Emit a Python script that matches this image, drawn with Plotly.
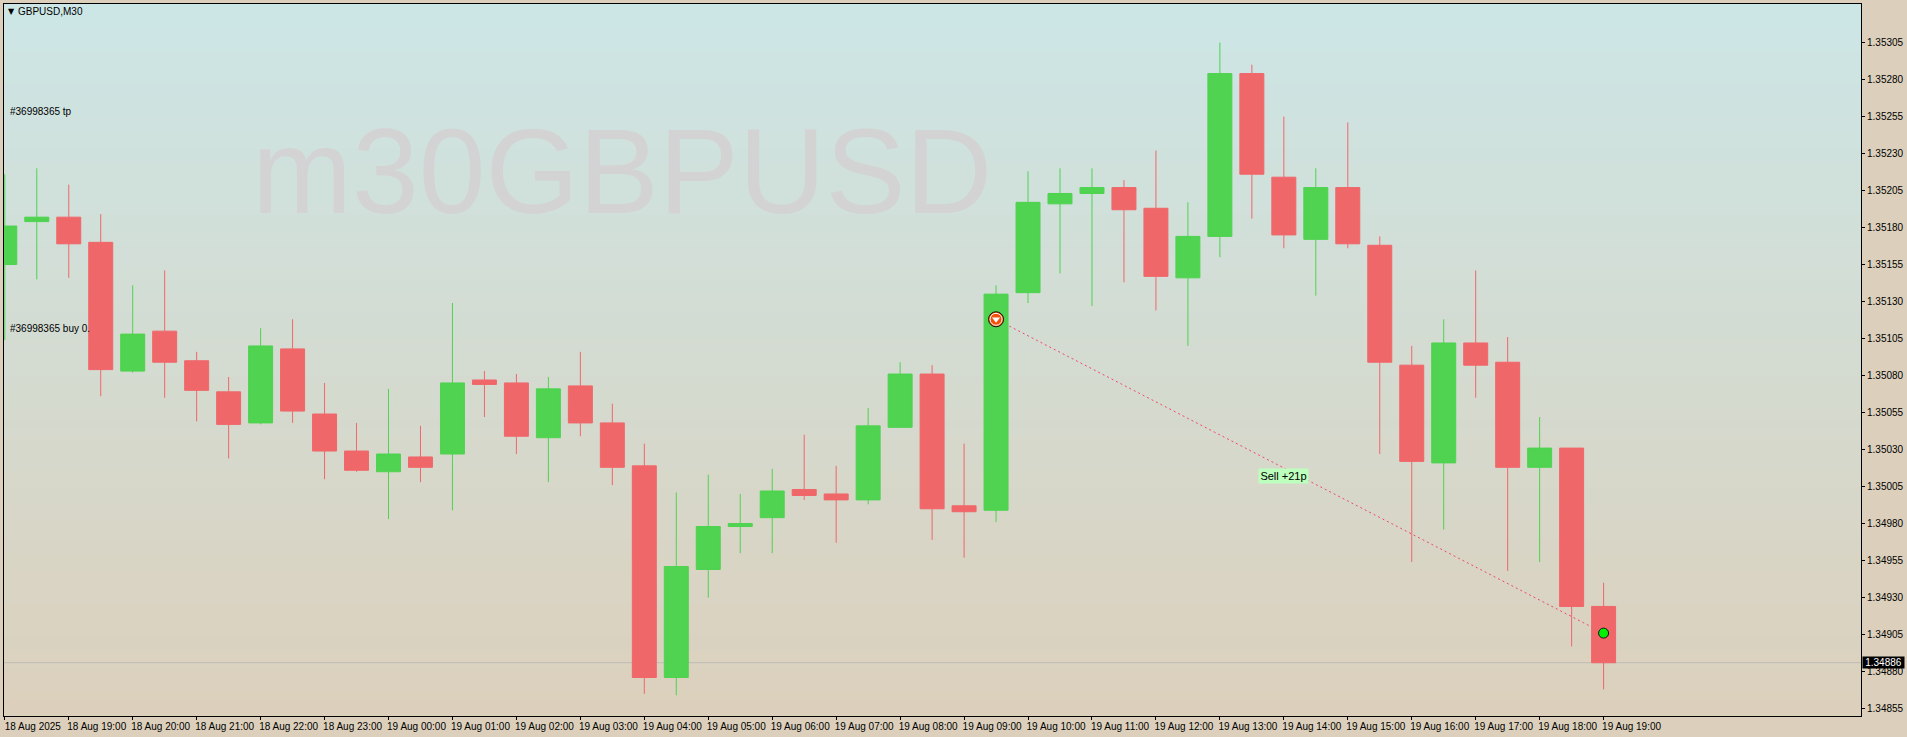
import base64
import struct
import zlib

import pandas as pd
import plotly.graph_objects as go

# ---------- data ----------
opens = [1.35155, 1.35184, 1.35187, 1.35170, 1.35083, 1.35110, 1.35090, 1.35069, 1.35048, 1.35098,
         1.35054, 1.35029, 1.35015, 1.35025, 1.35027, 1.35077, 1.35075, 1.35038, 1.35073, 1.35048,
         1.35019, 1.34876, 1.34949, 1.34978, 1.34984, 1.35003, 1.35000, 1.34996, 1.35045, 1.35081,
         1.34992, 1.34989, 1.35136, 1.35196, 1.35203, 1.35207, 1.35193, 1.35146, 1.35174, 1.35284,
         1.35214, 1.35172, 1.35207, 1.35168, 1.35087, 1.35021, 1.35102, 1.35089, 1.35018, 1.35031,
         1.34924]
highs = [1.35216, 1.35220, 1.35209, 1.35189, 1.35141, 1.35151, 1.35096, 1.35079, 1.35112, 1.35118,
         1.35075, 1.35048, 1.35071, 1.35046, 1.35129, 1.35083, 1.35081, 1.35079, 1.35096, 1.35061,
         1.35034, 1.35001, 1.35013, 1.35000, 1.35017, 1.35040, 1.35019, 1.35058, 1.35089, 1.35087,
         1.35034, 1.35141, 1.35218, 1.35220, 1.35220, 1.35212, 1.35232, 1.35197, 1.35305, 1.35290,
         1.35255, 1.35220, 1.35251, 1.35174, 1.35100, 1.35118, 1.35151, 1.35106, 1.35052, 1.35031,
         1.34940]
lows = [1.35104, 1.35145, 1.35146, 1.35066, 1.35082, 1.35065, 1.35049, 1.35024, 1.35047, 1.35048,
        1.35010, 1.35015, 1.34983, 1.35008, 1.34989, 1.35052, 1.35027, 1.35008, 1.35039, 1.35006,
        1.34865, 1.34864, 1.34930, 1.34960, 1.34960, 1.34996, 1.34967, 1.34993, 1.35045, 1.34969,
        1.34957, 1.34981, 1.35129, 1.35149, 1.35127, 1.35143, 1.35124, 1.35100, 1.35160, 1.35186,
        1.35166, 1.35134, 1.35166, 1.35027, 1.34954, 1.34976, 1.35065, 1.34948, 1.34954, 1.34897,
        1.34868]
closes = [1.35181, 1.35187, 1.35169, 1.35084, 1.35108, 1.35089, 1.35070, 1.35047, 1.35100, 1.35056,
          1.35029, 1.35016, 1.35027, 1.35018, 1.35075, 1.35074, 1.35039, 1.35071, 1.35048, 1.35018,
          1.34876, 1.34951, 1.34978, 1.34980, 1.35002, 1.34999, 1.34996, 1.35046, 1.35081, 1.34990,
          1.34988, 1.35135, 1.35197, 1.35203, 1.35207, 1.35192, 1.35147, 1.35174, 1.35284, 1.35216,
          1.35175, 1.35207, 1.35169, 1.35089, 1.35022, 1.35102, 1.35087, 1.35018, 1.35031, 1.34924,
          1.34886]
x_tick_labels = ["18 Aug 2025", "18 Aug 19:00", "18 Aug 20:00", "18 Aug 21:00", "18 Aug 22:00",
                 "18 Aug 23:00", "19 Aug 00:00", "19 Aug 01:00", "19 Aug 02:00", "19 Aug 03:00",
                 "19 Aug 04:00", "19 Aug 05:00", "19 Aug 06:00", "19 Aug 07:00", "19 Aug 08:00",
                 "19 Aug 09:00", "19 Aug 10:00", "19 Aug 11:00", "19 Aug 12:00", "19 Aug 13:00",
                 "19 Aug 14:00", "19 Aug 15:00", "19 Aug 16:00", "19 Aug 17:00", "19 Aug 18:00",
                 "19 Aug 19:00"]
x_tick_times = ["2025-08-18 18:00", "2025-08-18 19:00", "2025-08-18 20:00", "2025-08-18 21:00",
                "2025-08-18 22:00", "2025-08-18 23:00", "2025-08-19 00:00", "2025-08-19 01:00",
                "2025-08-19 02:00", "2025-08-19 03:00", "2025-08-19 04:00", "2025-08-19 05:00",
                "2025-08-19 06:00", "2025-08-19 07:00", "2025-08-19 08:00", "2025-08-19 09:00",
                "2025-08-19 10:00", "2025-08-19 11:00", "2025-08-19 12:00", "2025-08-19 13:00",
                "2025-08-19 14:00", "2025-08-19 15:00", "2025-08-19 16:00", "2025-08-19 17:00",
                "2025-08-19 18:00", "2025-08-19 19:00"]
y_tick_values = [1.34855, 1.34880, 1.34905, 1.34930, 1.34955, 1.34980, 1.35005, 1.35030, 1.35055,
                 1.35080, 1.35105, 1.35130, 1.35155, 1.35180, 1.35205, 1.35230, 1.35255, 1.35280,
                 1.35305]
y_tick_labels = ["1.34855", "1.34880", "1.34905", "1.34930", "1.34955", "1.34980", "1.35005",
                 "1.35030", "1.35055", "1.35080", "1.35105", "1.35130", "1.35155", "1.35180",
                 "1.35205", "1.35230", "1.35255", "1.35280", "1.35305"]
bid_price = 1.34886
bid_label = "1.34886"
trade_times = ["2025-08-19 09:30", "2025-08-19 19:00"]
trade_prices = [1.35118, 1.34906]
trade_label = "Sell +21p"
trade_label_time = "2025-08-19 14:00"
trade_label_price = 1.35012

times = pd.date_range("2025-08-18 18:00", periods=len(opens), freq="30min")

# ---------- styles ----------
GREEN = "#4FD350"
RED = "#F0676A"
PANEL = "#DCD0BC"
FONT = "Liberation Sans Narrow, Liberation Sans, Arial, sans-serif"
GRAD_TOP = (204, 230, 230)
GRAD_BOTTOM = (220, 208, 188)


def gradient_png(top, bottom, rows=713):
    raw = b""
    for r in range(rows):
        f = r / (rows - 1)
        raw += b"\x00" + bytes(round(a + (b - a) * f) for a, b in zip(top, bottom))

    def chunk(tag, body):
        return struct.pack(">I", len(body)) + tag + body + struct.pack(">I", zlib.crc32(tag + body))

    png = b"\x89PNG\r\n\x1a\n" + chunk(b"IHDR", struct.pack(">IIBBBBB", 1, rows, 8, 2, 0, 0, 0))
    png += chunk(b"IDAT", zlib.compress(raw)) + chunk(b"IEND", b"")
    return "data:image/png;base64," + base64.b64encode(png).decode()


W, H = 1907, 737
ML, MR, MT, MB = 3, 43, 3, 21
PW, PH = W - ML - MR, H - MT - MB


def px(x):
    return (x - ML) / PW


def py(y):
    return (H - MB - y) / PH


bar = pd.Timedelta(minutes=30)
x_range = [times[0] - bar * 0.025, times[0] + bar * 58.05]

fig = go.Figure()
fig.add_trace(go.Candlestick(
    x=times, open=opens, high=highs, low=lows, close=closes,
    increasing=dict(line=dict(color=GREEN, width=1), fillcolor=GREEN),
    decreasing=dict(line=dict(color=RED, width=1), fillcolor=RED),
    whiskerwidth=0, showlegend=False, hoverinfo="skip",
))
# open-trade arrow (ringed orange circle with a white down triangle)
fig.add_trace(go.Scatter(x=trade_times[:1], y=trade_prices[:1], mode="markers", showlegend=False,
                         hoverinfo="skip",
                         marker=dict(symbol="circle", size=15, color="#FF5000",
                                     line=dict(color="#111111", width=1))))
fig.add_trace(go.Scatter(x=trade_times[:1], y=trade_prices[:1], mode="markers", showlegend=False,
                         hoverinfo="skip",
                         marker=dict(symbol="circle", size=12, color="#F5500A",
                                     line=dict(color="white", width=1))))
fig.add_trace(go.Scatter(x=trade_times[:1], y=trade_prices[:1], mode="markers", showlegend=False,
                         hoverinfo="skip",
                         marker=dict(symbol="triangle-down", size=7, color="white")))
# close-trade dot
fig.add_trace(go.Scatter(x=trade_times[1:], y=trade_prices[1:], mode="markers", showlegend=False,
                         hoverinfo="skip",
                         marker=dict(symbol="circle", size=10, color="#00F000",
                                     line=dict(color="#111111", width=1))))

annotations = [
    dict(xref="paper", yref="paper", x=px(250), y=py(170), text="m30GBPUSD", showarrow=False,
         xanchor="left", yanchor="middle",
         font=dict(family="Liberation Sans, Arial, sans-serif", size=120, color="#D3D3D3")),
    dict(xref="paper", yref="paper", x=px(5), y=py(10.5), text="▼", showarrow=False,
         xanchor="left", yanchor="middle", font=dict(family="DejaVu Sans", size=8, color="black")),
    dict(xref="paper", yref="paper", x=px(15), y=py(10.5), text="GBPUSD,M30", showarrow=False,
         xanchor="left", yanchor="middle", font=dict(family=FONT, size=10, color="black")),
    dict(xref="paper", yref="paper", x=px(7), y=py(111), text="#36998365 tp", showarrow=False,
         xanchor="left", yanchor="middle", font=dict(family=FONT, size=10, color="black")),
    dict(xref="paper", yref="paper", x=px(7), y=py(328), text="#36998365 buy 0.", showarrow=False,
         xanchor="left", yanchor="middle", font=dict(family=FONT, size=10, color="black")),
    dict(x=trade_label_time, y=trade_label_price, text=trade_label, showarrow=False,
         bgcolor="#BDFFBD", borderpad=1, width=47, font=dict(family=FONT, size=11, color="black")),
    dict(xref="paper", yref="y", x=1, y=bid_price, text=bid_label, showarrow=False,
         xanchor="left", yanchor="middle", xshift=1, bgcolor="black", borderpad=0, width=41, height=11,
         font=dict(family=FONT, size=10, color="white")),
]

fig.update_layout(
    width=W, height=H,
    margin=dict(l=ML, r=MR, t=MT, b=MB, pad=0),
    paper_bgcolor=PANEL,
    plot_bgcolor=PANEL,
    boxgap=0.25, boxgroupgap=0, boxmode="overlay",
    showlegend=False,
    annotations=annotations,
    images=[dict(source=gradient_png(GRAD_TOP, GRAD_BOTTOM), xref="paper", yref="paper",
                 x=0, y=1, sizex=1, sizey=1, xanchor="left", yanchor="top",
                 sizing="stretch", layer="below")],
    shapes=[
        dict(type="line", xref="paper", yref="y", x0=0, x1=1, y0=bid_price, y1=bid_price,
             layer="below", line=dict(color="#BDBBB4", width=1)),
        dict(type="line", x0=trade_times[0], x1=trade_times[1], y0=trade_prices[0], y1=trade_prices[1],
             layer="below", line=dict(color="#F0486A", width=1, dash="2px,3px")),
    ],
    xaxis=dict(
        type="date", range=list(x_range), rangeslider=dict(visible=False),
        tickmode="array", tickvals=x_tick_times, ticktext=x_tick_labels,
        ticklabelshift=28, ticklabelstandoff=-2, ticks="outside", ticklen=3, tickcolor="black", tickwidth=1,
        showgrid=False, zeroline=False, showline=True, linecolor="black", linewidth=1, mirror=True,
        tickfont=dict(family=FONT, size=10, color="black"),
    ),
    yaxis=dict(
        side="right", range=[1.34850, 1.35331],
        tickmode="array", tickvals=y_tick_values, ticktext=y_tick_labels,
        ticks="outside", ticklen=3, tickcolor="black", tickwidth=1,
        showgrid=False, zeroline=False, showline=True, linecolor="black", linewidth=1, mirror=True,
        tickfont=dict(family=FONT, size=10, color="black"),
    ),
)

fig.write_html("out.html", config=dict(displayModeBar=False),
               post_script="document.body.style.margin='0';document.body.style.background='%s';" % PANEL)
